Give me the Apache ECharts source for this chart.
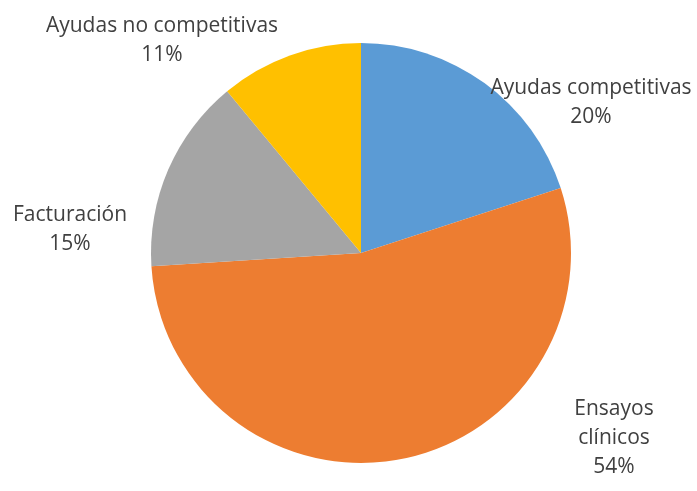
<!DOCTYPE html>
<html><head><meta charset="utf-8">
<script src="https://cdn.jsdelivr.net/npm/echarts@6/dist/echarts.min.js"></script>
<style>html,body{margin:0;padding:0;background:#fff}#c{width:697px;height:491px}</style>
</head><body><div id="c"></div>
<script>
const categories = ['Ayudas competitivas', 'Ensayos clínicos', 'Facturación', 'Ayudas no competitivas'];
const labelTexts = ['Ayudas competitivas\n20%', 'Ensayos\nclínicos\n54%', 'Facturación\n15%', 'Ayudas no competitivas\n11%'];
const values = [20, 54, 15, 11];
const colors = ['#5B9BD5', '#ED7D31', '#A5A5A5', '#FFC000'];
const labelPos = [[591, 103], [614, 438], [70, 230], [162, 41]];

const chart = echarts.init(document.getElementById('c'), null, {renderer: 'canvas'});
chart.setOption({
  animation: false,
  backgroundColor: '#fff',
  series: [{
    type: 'pie',
    center: [361, 253],
    radius: 210,
    startAngle: 90,
    clockwise: true,
    avoidLabelOverlap: false,
    data: categories.map((c, i) => ({name: c, value: values[i], itemStyle: {color: colors[i]}, label: {formatter: labelTexts[i]}})),
    label: {
      show: true,
      position: 'outside',
      color: '#404040',
      fontFamily: 'Open Sans',
      fontSize: 21,
      lineHeight: 29,
      align: 'center',
      overflow: 'none'
    },
    labelLine: {show: false},
    labelLayout: function (p) {
      return {x: labelPos[p.dataIndex][0], y: labelPos[p.dataIndex][1], align: 'center', verticalAlign: 'middle', hideOverlap: false};
    },
    itemStyle: {borderWidth: 0}
  }]
});
</script></body></html>
